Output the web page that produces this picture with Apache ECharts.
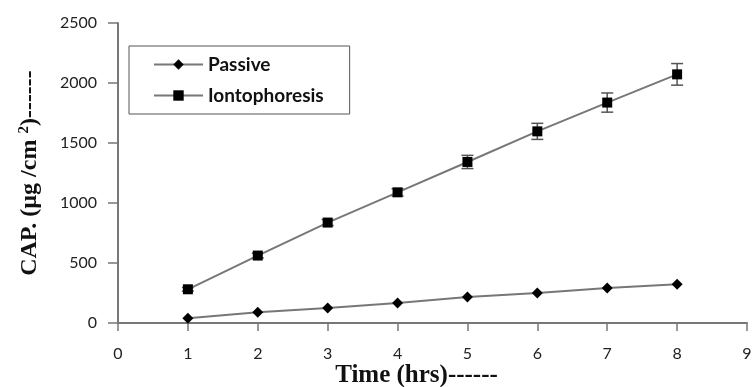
<!DOCTYPE html>
<html>
<head>
<meta charset="utf-8">
<script src="https://cdn.jsdelivr.net/npm/echarts@6/dist/echarts.min.js"></script>
<style>
  html, body { margin: 0; padding: 0; background: #fff; }
  #chart { width: 753px; height: 387px; }
</style>
</head>
<body>
<div id="chart"></div>
<script>
// time points (hrs)
var hours = [1, 2, 3, 4, 5, 6, 7, 8]
// cumulative amount permeated (µg/cm²)
var passive = [39, 89, 125, 167, 217, 250, 292, 322]
var iontophoresis = [281, 562, 837, 1089, 1342, 1597, 1837, 2072]
var iontoErr = [15, 20, 25, 30, 55, 67, 80, 90]

var xTicks = [0, 1, 2, 3, 4, 5, 6, 7, 8, 9]
var yTicks = [0, 500, 1000, 1500, 2000, 2500]

var chart = echarts.init(document.getElementById('chart'))

var passiveData = hours.map(function (h, i) { return [h, passive[i]] })
var iontoData = hours.map(function (h, i) { return [h, iontophoresis[i]] })
var errData = hours.map(function (h, i) {
  return [h, iontophoresis[i] - iontoErr[i], iontophoresis[i] + iontoErr[i]]
})

var titleFont = { fontFamily: 'Liberation Serif', fontWeight: 'bold', fontSize: 24, color: '#111' }

var option = {
  animation: false,
  backgroundColor: '#fff',
  grid: { left: 118, right: 6, top: 23, bottom: 64, outerBoundsMode: 'none', containLabel: false },
  legend: {
    orient: 'vertical',
    left: 129,
    top: 46,
    data: ['Passive', 'Iontophoresis'],
    borderColor: '#555',
    borderWidth: 1,
    padding: [9, 26, 9, 24],
    itemGap: 12,
    itemWidth: 49,
    itemHeight: 13,
    textStyle: { fontFamily: 'Lato', fontWeight: 'bold', fontSize: 19, color: '#111' }
  },
  xAxis: {
    type: 'value',
    min: xTicks[0],
    max: xTicks[xTicks.length - 1],
    interval: 1,
    name: 'Time (hrs)------',
    nameLocation: 'middle',
    nameGap: 40,
    nameMoveOverlap: false,
    nameTextStyle: Object.assign({ padding: [0, 32, 0, 0] }, titleFont, { fontSize: 25 }),
    axisLine: { lineStyle: { color: '#777', width: 2 } },
    axisTick: { show: true, length: 8, lineStyle: { color: '#777', width: 1.5 } },
    axisLabel: { margin: 23, fontFamily: 'Lato', fontSize: 16, color: '#222' },
    splitLine: { show: false }
  },
  yAxis: {
    type: 'value',
    min: yTicks[0],
    max: yTicks[yTicks.length - 1],
    interval: 500,
    name: 'CAP. (µg /cm {sup|2})------',
    nameLocation: 'middle',
    nameGap: 76,
    nameRotate: 90,
    nameMoveOverlap: false,
    nameTextStyle: Object.assign({
      rich: {
        sup: { fontFamily: 'Liberation Serif', fontWeight: 'bold', fontSize: 15, color: '#111', verticalAlign: 'top', padding: [0, 0, 10, 0] }
      }
    }, titleFont),
    axisLine: { show: true, lineStyle: { color: '#777', width: 2 } },
    axisTick: { show: true, length: 10, lineStyle: { color: '#777', width: 1.5 } },
    axisLabel: {
      margin: 21, fontFamily: 'Lato', fontSize: 16, color: '#222',
      formatter: function (v) { return String(v) }
    },
    splitLine: { show: false }
  },
  series: [
    {
      name: 'Passive',
      type: 'line',
      data: passiveData,
      symbol: 'diamond',
      symbolSize: 11,
      itemStyle: { color: '#000' },
      lineStyle: { color: '#777', width: 2 }
    },
    {
      name: 'Iontophoresis',
      type: 'line',
      data: iontoData,
      symbol: 'rect',
      symbolSize: 10,
      itemStyle: { color: '#000' },
      lineStyle: { color: '#777', width: 2 },
      z: 3
    },
    {
      name: 'err',
      type: 'custom',
      data: errData,
      z: 2,
      renderItem: function (params, api) {
        var lo = api.coord([api.value(0), api.value(1)])
        var hi = api.coord([api.value(0), api.value(2)])
        var w = 6
        var style = { stroke: '#555', lineWidth: 1.5 }
        return {
          type: 'group',
          children: [
            { type: 'line', shape: { x1: lo[0], y1: lo[1], x2: hi[0], y2: hi[1] }, style: style },
            { type: 'line', shape: { x1: lo[0] - w, y1: lo[1], x2: lo[0] + w, y2: lo[1] }, style: style },
            { type: 'line', shape: { x1: hi[0] - w, y1: hi[1], x2: hi[0] + w, y2: hi[1] }, style: style }
          ]
        }
      }
    }
  ]
}

chart.setOption(option)
</script>
</body>
</html>
